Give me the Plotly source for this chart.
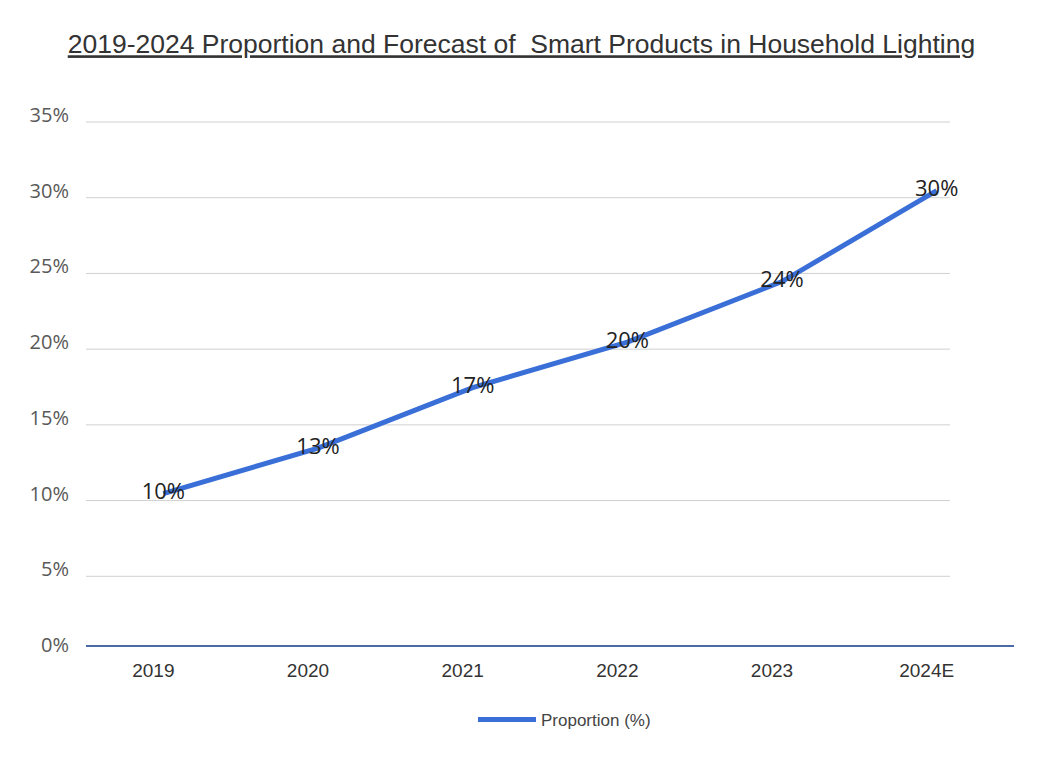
import plotly.graph_objects as go

years = ["2019", "2020", "2021", "2022", "2023", "2024E"]
proportion = [0.10, 0.13, 0.17, 0.20, 0.24, 0.30]
y_ticks = [0, 0.05, 0.10, 0.15, 0.20, 0.25, 0.30, 0.35]
y_tick_labels = ["0%", "5%", "10%", "15%", "20%", "25%", "30%", "35%"]
series_name = "Proportion (%)"
title = "2019-2024 Proportion and Forecast of\u00a0\u00a0Smart Products in Household Lighting"

fig = go.Figure()
fig.add_trace(go.Scatter(
    x=years, y=proportion, name=series_name,
    mode="lines+text",
    line=dict(color="#3a6fd8", width=5),
    text=[f"{v*100:.0f}%" for v in proportion],
    textposition="middle center",
    textfont=dict(family="Open Sans", size=22, color="#222222"),
    cliponaxis=False,
))

# gridlines: end short of the right edge and sit slightly below their labels, as in the reference
for t in y_ticks[1:]:
    fig.add_shape(type="line", xref="paper", yref="y", ysizemode="pixel", yanchor=t,
                  x0=0, x1=0.931, y0=-7, y1=-7,
                  line=dict(color="#d0d0d0", width=1), layer="below")

fig.update_layout(
    width=1044, height=760,
    paper_bgcolor="white", plot_bgcolor="white",
    margin=dict(l=78, r=38, t=107, b=123),
    title=dict(text=f"<u>{title}</u>", x=0.4918, xref="container", xanchor="center",
               y=1 - 36 / 760, yref="container", yanchor="middle",
               font=dict(family="Liberation Sans, Arial", size=26.5, color="#333333")),
    showlegend=True,
    legend=dict(orientation="h", x=0.417, xanchor="left", y=-0.1415, yanchor="middle",
                itemwidth=58,
                font=dict(family="Liberation Sans, Arial", size=17, color="#444444")),
    xaxis=dict(type="category", range=[-0.5, 5.5], showgrid=False,
               showline=True, linecolor="#4d6aa8", linewidth=2,
               ticks="", ticklabelstandoff=7, ticklabelshift=-10,
               tickfont=dict(family="Liberation Sans, Arial", size=19, color="#333333")),
    yaxis=dict(range=[0, 0.35], tickvals=y_ticks, ticktext=y_tick_labels,
               showgrid=False,
               zeroline=False, showline=False, ticks="",
               ticklabelstandoff=16,
               tickfont=dict(family="Open Sans", size=20, color="#595959")),
)

fig.write_html("out.html")
